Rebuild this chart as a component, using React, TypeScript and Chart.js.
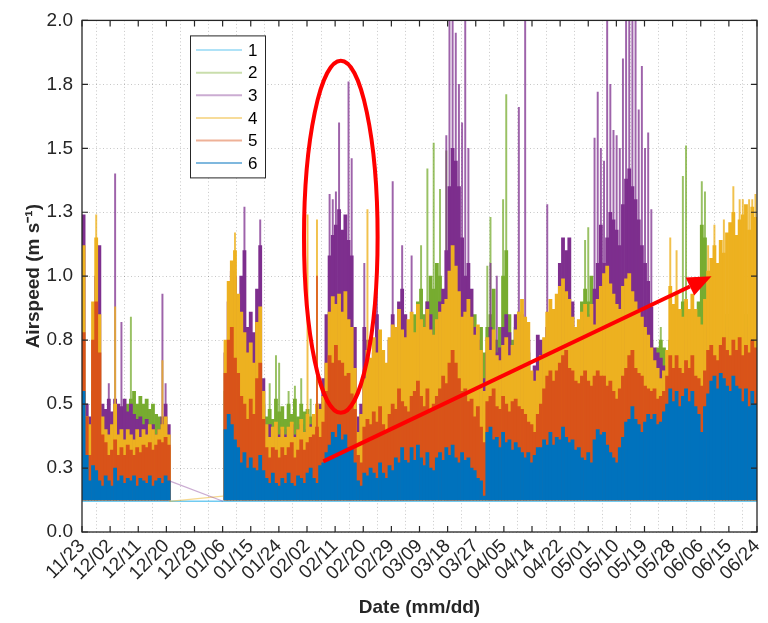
import React, { useEffect, useRef } from 'react';
import { Chart, registerables } from 'chart.js';

Chart.register(...registerables);

// ---------- axes / labels ----------
const X_LABELS = ['11/23', '12/02', '12/11', '12/20', '12/29', '01/06', '01/15', '01/24', '02/02', '02/11', '02/20', '02/29', '03/09', '03/18', '03/27', '04/05', '04/14', '04/22', '05/01', '05/10', '05/19', '05/28', '06/06', '06/15', '06/24'];
const Y_LABELS = ['0.0', '0.3', '0.5', '0.8', '1.0', '1.3', '1.5', '1.8', '2.0'];
const TOTAL_DAYS = 214; // 11/23 .. 06/24
const Y_MAX = 2.0;
const Y_STEP = 0.25;
const SERIES_NAMES = ['1', '2', '3', '4', '5', '6'];

// ---------- data (daily peak airspeed, m/s) ----------
const BASE = 0.125; // lower floor of the record
const SEG_A_START = 0; // days 0..27 (11/23 - 12/20)
const SEG_B_START = 45; // days 45..213 (01/07 - 06/24)

// series 6 (blue)
const S6_A = [0.55, 0.3, 0.2, 0.26, 0.24, 0.2, 0.18, 0.22, 0.2, 0.18, 0.25, 0.2, 0.22, 0.19, 0.21, 0.2, 0.22, 0.18, 0.21, 0.2, 0.19, 0.22, 0.18, 0.2, 0.21, 0.19, 0.22, 0.2];
const S6_B = [
  0.40, 0.46, 0.42, 0.36, 0.33, 0.27, 0.31, 0.25, 0.29, 0.25,
  0.24, 0.30, 0.24, 0.21, 0.19, 0.23, 0.19, 0.18, 0.21, 0.19,
  0.23, 0.19, 0.18, 0.22, 0.21, 0.19, 0.23, 0.25, 0.21, 0.19,
  0.26, 0.27, 0.31, 0.34, 0.39, 0.37, 0.42, 0.36, 0.38, 0.33,
  0.33, 0.27, 0.20, 0.18, 0.23, 0.22, 0.25, 0.23, 0.21, 0.27,
  0.23, 0.21, 0.26, 0.24, 0.29, 0.27, 0.33, 0.28, 0.27, 0.33,
  0.28, 0.34, 0.29, 0.26, 0.31, 0.25, 0.24, 0.29, 0.31, 0.28,
  0.33, 0.30, 0.34, 0.29, 0.27, 0.31, 0.28, 0.29, 0.25, 0.24,
  0.21, 0.20, 0.14, 0.39, 0.41, 0.36, 0.37, 0.33, 0.39, 0.35,
  0.36, 0.32, 0.35, 0.33, 0.31, 0.29, 0.31, 0.27, 0.30, 0.33,
  0.33, 0.36, 0.34, 0.39, 0.34, 0.37, 0.36, 0.41, 0.37, 0.35,
  0.36, 0.32, 0.33, 0.29, 0.28, 0.31, 0.27, 0.36, 0.40, 0.38,
  0.39, 0.34, 0.31, 0.29, 0.27, 0.33, 0.37, 0.43, 0.44, 0.49,
  0.44, 0.42, 0.39, 0.43, 0.46, 0.44, 0.46, 0.42, 0.43, 0.47,
  0.50, 0.56, 0.51, 0.55, 0.49, 0.53, 0.56, 0.51, 0.55, 0.49,
  0.46, 0.39, 0.49, 0.54, 0.59, 0.61, 0.56, 0.62, 0.60, 0.57,
  0.55, 0.61, 0.57, 0.56, 0.51, 0.56, 0.49, 0.55, 0.50,
];

// series 5 (orange)
const S5_A = [0.78, 0.45, 0.3, 0.75, 0.9, 0.7, 0.38, 0.35, 0.3, 0.32, 0.36, 0.3, 0.33, 0.3, 0.34, 0.32, 0.3, 0.33, 0.31, 0.34, 0.33, 0.35, 0.32, 0.34, 0.36, 0.35, 0.37, 0.34];
const S5_B = [
  0.62, 0.75, 0.80, 0.68, 0.62, 0.53, 0.50, 0.44, 0.52, 0.46,
  0.60, 0.66, 0.44, 0.33, 0.29, 0.33, 0.32, 0.29, 0.33, 0.30,
  0.33, 0.35, 0.29, 0.32, 0.36, 0.32, 0.35, 0.37, 0.38, 0.41,
  0.37, 0.43, 0.55, 0.69, 0.66, 0.73, 0.67, 0.66, 0.61, 0.62,
  0.54, 0.48, 0.30, 0.27, 0.41, 0.44, 0.42, 0.47, 0.43, 0.49,
  0.42, 0.39, 0.46, 0.50, 0.48, 0.56, 0.51, 0.49, 0.47, 0.53,
  0.55, 0.59, 0.53, 0.49, 0.56, 0.48, 0.50, 0.53, 0.56, 0.61,
  0.58, 0.66, 0.71, 0.66, 0.60, 0.55, 0.56, 0.51, 0.52, 0.45,
  0.49, 0.41, 0.35, 0.51, 0.53, 0.56, 0.49, 0.48, 0.53, 0.50,
  0.47, 0.51, 0.52, 0.49, 0.48, 0.46, 0.43, 0.42, 0.39, 0.46,
  0.50, 0.56, 0.61, 0.63, 0.59, 0.63, 0.66, 0.69, 0.71, 0.64,
  0.63, 0.59, 0.58, 0.61, 0.63, 0.59, 0.57, 0.61, 0.63, 0.61,
  0.61, 0.57, 0.59, 0.55, 0.52, 0.56, 0.61, 0.64, 0.69, 0.71,
  0.64, 0.62, 0.61, 0.57, 0.56, 0.55, 0.56, 0.52, 0.53, 0.55,
  0.61, 0.69, 0.64, 0.69, 0.64, 0.62, 0.67, 0.64, 0.69, 0.61,
  0.60, 0.57, 0.63, 0.71, 0.73, 0.69, 0.67, 0.73, 0.76, 0.71,
  0.69, 0.75, 0.71, 0.76, 0.69, 0.73, 0.70, 0.75, 0.72,
];

// series 4 (yellow)
const S4_A = [1.12, 0.45, 0.42, 0.9, 1.15, 0.85, 0.45, 0.4, 0.38, 0.42, 0.5, 0.38, 0.4, 0.36, 0.4, 0.38, 0.36, 0.4, 0.37, 0.4, 0.38, 0.42, 0.4, 0.38, 0.4, 0.42, 0.45, 0.38];
const S4_B = [
  0.75, 0.98, 1.06, 1.10, 0.93, 0.86, 0.78, 0.70, 0.74, 0.66,
  0.82, 0.88, 0.55, 0.42, 0.37, 0.41, 0.43, 0.37, 0.41, 0.37,
  0.41, 0.43, 0.37, 0.40, 0.44, 0.39, 0.46, 0.41, 0.46, 0.50,
  0.48, 0.53, 0.66, 0.86, 0.92, 0.89, 0.93, 0.86, 0.94, 0.83,
  0.80, 0.64, 0.39, 0.46, 0.60, 0.71, 0.68, 0.76, 0.70, 0.79,
  0.71, 0.66, 0.76, 0.81, 0.80, 0.87, 0.79, 0.76, 0.83, 0.86,
  0.78, 0.89, 0.83, 0.80, 0.87, 0.79, 0.77, 0.83, 0.86, 0.89,
  0.91, 1.02, 1.12, 1.04, 0.94, 0.84, 0.86, 0.91, 0.84, 0.77,
  0.81, 0.71, 0.55, 0.76, 0.71, 0.79, 0.69, 0.67, 0.73, 0.76,
  0.69, 0.73, 0.79, 0.86, 0.91, 0.84, 0.82, 0.63, 0.59, 0.63,
  0.69, 0.76, 0.86, 0.91, 0.87, 0.93, 0.96, 0.99, 0.94, 0.91,
  0.84, 0.80, 0.83, 0.86, 0.89, 0.84, 0.89, 0.81, 0.91, 0.96,
  1.01, 1.04, 0.97, 0.93, 0.89, 0.87, 0.96, 0.99, 1.01, 0.94,
  0.90, 0.87, 0.84, 0.80, 0.77, 0.72, 0.67, 0.64, 0.60, 0.63,
  0.71, 0.96, 0.89, 0.93, 0.87, 0.84, 0.91, 0.87, 0.93, 0.87,
  0.84, 0.81, 0.91, 1.02, 1.07, 1.12, 1.05, 1.14, 1.09, 1.17,
  1.21, 1.25, 1.16, 1.22, 1.24, 1.28, 1.18, 1.27, 1.23,
];

// series 3 (purple)
const S3_A = [1.24, 0.5, 0.45, 0.55, 1.0, 1.12, 0.5, 0.48, 0.52, 0.47, 0.52, 0.5, 0.49, 0.52, 0.47, 0.5, 0.46, 0.44, 0.45, 0.42, 0.44, 0.4, 0.42, 0.38, 0.4, 0.45, 0.5, 0.42];
const S3_B = [
  0.70, 0.90, 1.02, 1.00, 0.90, 1.00, 1.10, 0.80, 0.86, 0.78,
  0.95, 1.12, 0.60, 0.40, 0.42, 0.40, 0.42, 0.38, 0.40, 0.38,
  0.40, 0.42, 0.38, 0.40, 0.42, 0.38, 0.40, 0.42, 0.45, 0.40,
  0.50, 0.60, 0.85, 1.08, 1.16, 1.20, 1.26, 1.18, 1.24, 1.14,
  1.08, 0.80, 0.45, 0.50, 0.80, 0.75, 0.65, 0.70, 0.85, 0.70,
  0.65, 0.60, 0.75, 0.85, 0.80, 0.90, 0.95, 0.85, 0.80, 0.75,
  0.70, 0.75, 0.80, 0.75, 0.90, 0.85, 0.75, 0.80, 0.90, 0.95,
  1.10, 1.35, 1.50, 1.45, 1.35, 1.15, 1.00, 1.05, 0.95, 0.80,
  0.75, 0.70, 0.60, 0.70, 0.80, 0.75, 0.70, 0.72, 0.80, 0.85,
  0.78, 0.70, 0.85, 0.80, 0.85, 0.80, 0.75, 0.60, 0.65, 0.77,
  0.75, 0.70, 0.80, 0.85, 0.80, 0.85, 1.05, 1.15, 1.10, 1.15,
  0.90, 0.80, 0.75, 0.78, 0.80, 0.80, 0.85, 0.95, 1.05, 1.20,
  1.05, 1.15, 1.25, 1.22, 1.18, 1.12, 1.28, 1.38, 1.42, 1.35,
  1.30, 1.22, 1.12, 1.05, 0.98, 0.88, 0.72, 0.70, 0.68, 0.65,
  0.60, 0.70, 0.70, 0.72, 0.70, 0.72, 0.75, 0.70, 0.72, 0.70,
  0.75, 0.72, 0.75, 0.80, 0.80, 0.80, 0.80, 0.80, 0.80, 0.80,
  0.80, 0.80, 0.80, 0.80, 0.80, 0.80, 0.80, 0.80, 0.80,
];

// series 2 (green)
const S2_A = [0.4, 0.35, 0.3, 0.4, 0.5, 0.45, 0.35, 0.38, 0.4, 0.42, 0.4, 0.42, 0.44, 0.45, 0.5, 0.52, 0.55, 0.5, 0.53, 0.5, 0.52, 0.48, 0.5, 0.46, 0.45, 0.38, 0.35, 0.33];
const S2_B = [
  0.55, 0.60, 0.55, 0.50, 0.50, 0.50, 0.55, 0.50, 0.60, 0.50,
  0.50, 0.55, 0.50, 0.45, 0.48, 0.44, 0.52, 0.47, 0.49, 0.44,
  0.50, 0.46, 0.52, 0.45, 0.50, 0.47, 0.48, 0.45, 0.44, 0.42,
  0.45, 0.45, 0.50, 0.50, 0.50, 0.50, 0.50, 0.50, 0.50, 0.50,
  0.50, 0.45, 0.38, 0.40, 0.50, 0.55, 0.60, 0.65, 0.60, 0.68,
  0.60, 0.62, 0.65, 0.60, 0.70, 0.72, 0.70, 0.75, 0.80, 0.78,
  0.85, 0.90, 0.95, 0.85, 0.90, 1.00, 0.95, 1.05, 1.00, 0.90,
  0.95, 0.90, 0.90, 0.85, 0.85, 0.80, 0.85, 0.90, 0.80, 0.85,
  0.75, 0.80, 0.70, 0.80, 0.85, 0.95, 0.75, 0.80, 1.00, 1.10,
  0.85, 0.75, 0.80, 0.75, 0.70, 0.72, 0.70, 0.55, 0.55, 0.58,
  0.60, 0.60, 0.65, 0.68, 0.70, 0.70, 0.75, 0.80, 0.78, 0.75,
  0.70, 0.72, 0.75, 0.90, 0.95, 0.90, 1.00, 0.80, 0.80, 0.85,
  0.85, 0.85, 0.85, 0.85, 0.80, 0.80, 0.80, 0.80, 0.80, 0.80,
  0.80, 0.80, 0.80, 0.80, 0.75, 0.75, 0.70, 0.72, 0.75, 0.72,
  0.65, 0.75, 0.80, 0.85, 0.80, 0.90, 0.90, 0.80, 0.85, 0.80,
  0.90, 1.20, 1.15, 0.90, 0.85, 0.85, 0.85, 0.85, 0.85, 0.85,
  0.85, 0.85, 0.85, 0.85, 0.85, 0.85, 0.85, 0.85, 0.85,
];

// isolated short bursts above the daily level: [day, peak m/s]
const S5_SPIKES = [[74, 1.0]];
const S4_SPIKES = [[4, 1.24], [10, 0.88], [25, 0.67], [48, 1.17], [71, 1.24], [74, 1.22], [90, 1.26], [186, 1.15], [188, 1.1], [198, 1.12], [200, 1.2], [203, 1.22], [206, 1.35], [208, 1.3], [209, 1.3], [211, 1.3], [212, 1.3], [213, 1.32]];
const S3_SPIKES = [[8, 0.58], [10, 1.4], [12, 0.82], [25, 0.93], [26, 0.58], [51, 1.27], [56, 1.22], [78, 1.32], [79, 1.3], [80, 1.33], [81, 1.6], [84, 1.76], [85, 1.46], [89, 1.05], [93, 1.26], [98, 1.37], [101, 1.12], [104, 1.08], [115, 1.55], [116, 2.1], [117, 2.1], [118, 1.95], [119, 1.75], [120, 1.6], [121, 2.1], [122, 1.5], [129, 1.05], [131, 1.0], [138, 1.66], [140, 2.1], [147, 1.28], [162, 1.54], [163, 1.72], [164, 1.5], [165, 1.45], [166, 2.1], [167, 1.75], [168, 1.57], [169, 1.55], [170, 1.5], [171, 1.85], [172, 2.1], [173, 2.1], [174, 2.1], [175, 2.1], [176, 1.65], [177, 1.82], [178, 1.5], [179, 1.56], [180, 1.26]];
const S2_SPIKES = [[15, 0.84], [53, 0.65], [59, 0.58], [61, 0.69], [62, 0.66], [65, 0.55], [67, 0.57], [69, 0.6], [72, 0.52], [107, 1.12], [109, 1.42], [111, 1.52], [113, 1.34], [115, 1.49], [128, 1.04], [129, 1.23], [133, 1.3], [134, 1.71], [159, 1.14], [160, 1.19], [183, 0.8], [190, 1.39], [191, 1.51], [196, 1.37], [197, 1.33]];

// series 1 (light blue) lies on the floor of the record
const S1_LINE = [{ x: 0, y: 0.12 }, { x: 214, y: 0.12 }];
// straight connectors drawn across the data gap (12/20 - 01/06)
const GAP_S3 = [{ x: 27.7, y: 0.2 }, { x: 44.7, y: 0.12 }];
const GAP_S4 = [{ x: 27.7, y: 0.12 }, { x: 44.7, y: 0.14 }];

// annotations (data units: days since 11/23, m/s)
const ELLIPSE = { day: 82.05, value: 1.154, dayRadius: 11.67, valueRadius: 0.688 };
const ARROW = { fromDay: 76.5, fromValue: 0.276, toDay: 199.6, toValue: 1.0 };

// ---------- styles ----------
const COLORS = ['#4DBEEE', '#77AC30', '#7E2F8E', '#EDB120', '#D95319', '#0072BD'];
const LEGEND_COLORS = ['rgba(77,190,238,0.45)', 'rgba(119,172,48,0.4)', 'rgba(126,47,142,0.4)', 'rgba(237,177,32,0.45)', 'rgba(217,83,25,0.45)', 'rgba(0,114,189,0.5)'];
const SPIKE_COLORS = ['', 'rgba(119,172,48,0.75)', 'rgba(126,47,142,0.75)', 'rgba(237,177,32,0.8)', 'rgba(217,83,25,0.8)', ''];
const AXIS_COLOR = '#262626';
const FONT = '"Liberation Sans", Arial, Helvetica, sans-serif';

function segPoints(a: number[], b: number[]) {
  const pts: any[] = [];
  a.forEach((v, i) => pts.push({ x: SEG_A_START + i + 0.5, y: [BASE, v] }));
  b.forEach((v, i) => pts.push({ x: SEG_B_START + i + 0.5, y: [BASE, v] }));
  return pts;
}
function spikePoints(list: number[][]) {
  return list.map(([d, v]) => ({ x: d + 0.5, y: [BASE, v] }));
}

const overlayPlugin = {
  id: 'overlay',
  afterDatasetsDraw(chart: any) {
    const { ctx, chartArea: a, scales } = chart;
    const x = scales.x;
    const y = scales.y;
    ctx.save();

    // axes frame with inward ticks
    ctx.strokeStyle = AXIS_COLOR;
    ctx.lineWidth = 1.3;
    ctx.strokeRect(a.left, a.top, a.right - a.left, a.bottom - a.top);
    ctx.lineWidth = 1.2;
    const tl = 6;
    ctx.beginPath();
    x.ticks.forEach((t: any) => {
      const px = x.getPixelForValue(t.value);
      ctx.moveTo(px, a.bottom); ctx.lineTo(px, a.bottom - tl);
      ctx.moveTo(px, a.top); ctx.lineTo(px, a.top + tl);
    });
    y.ticks.forEach((t: any) => {
      const py = y.getPixelForValue(t.value);
      ctx.moveTo(a.left, py); ctx.lineTo(a.left + tl, py);
      ctx.moveTo(a.right, py); ctx.lineTo(a.right - tl, py);
    });
    ctx.stroke();

    // red ellipse
    ctx.strokeStyle = '#ff0000';
    ctx.fillStyle = '#ff0000';
    ctx.lineWidth = 4;
    const cx = x.getPixelForValue(ELLIPSE.day);
    const cy = y.getPixelForValue(ELLIPSE.value);
    const rx = Math.abs(x.getPixelForValue(ELLIPSE.day + ELLIPSE.dayRadius) - cx);
    const ry = Math.abs(y.getPixelForValue(ELLIPSE.value + ELLIPSE.valueRadius) - cy);
    ctx.beginPath();
    ctx.ellipse(cx, cy, rx, ry, 0, 0, Math.PI * 2);
    ctx.stroke();

    // red arrow
    const x1 = x.getPixelForValue(ARROW.fromDay);
    const y1 = y.getPixelForValue(ARROW.fromValue);
    const x2 = x.getPixelForValue(ARROW.toDay);
    const y2 = y.getPixelForValue(ARROW.toValue);
    const ang = Math.atan2(y2 - y1, x2 - x1);
    const hl = 24, hw = 10;
    const bx = x2 - hl * Math.cos(ang);
    const by = y2 - hl * Math.sin(ang);
    ctx.beginPath();
    ctx.moveTo(x1, y1);
    ctx.lineTo(bx, by);
    ctx.stroke();
    ctx.beginPath();
    ctx.moveTo(x2, y2);
    ctx.lineTo(bx + hw * Math.sin(ang), by - hw * Math.cos(ang));
    ctx.lineTo(bx - hw * Math.sin(ang), by + hw * Math.cos(ang));
    ctx.closePath();
    ctx.fill();

    // legend box
    const lx = a.left + 108, ly = a.top + 15, lw = 75, lh = 142;
    ctx.fillStyle = '#ffffff';
    ctx.fillRect(lx, ly, lw, lh);
    ctx.strokeStyle = AXIS_COLOR;
    ctx.lineWidth = 1;
    ctx.strokeRect(lx + 0.5, ly + 0.5, lw, lh);
    ctx.font = `17px ${FONT}`;
    ctx.textBaseline = 'middle';
    ctx.textAlign = 'left';
    SERIES_NAMES.forEach((name, i) => {
      const ry2 = ly + 14.7 + i * 22.6;
      ctx.strokeStyle = LEGEND_COLORS[i];
      ctx.lineWidth = 2;
      ctx.beginPath();
      ctx.moveTo(lx + 6, ry2);
      ctx.lineTo(lx + 52, ry2);
      ctx.stroke();
      ctx.fillStyle = '#000000';
      ctx.fillText(name, lx + 58, ry2 + 1);
    });
    ctx.restore();
  },
};

export default function App() {
  const ref = useRef<HTMLCanvasElement | null>(null);

  useEffect(() => {
    document.body.style.margin = '0';
    const canvas = ref.current;
    if (!canvas) return;

    const barCommon = { grouped: false, borderWidth: 0, barPercentage: 1, categoryPercentage: 1, borderSkipped: false };
    const spikeCommon = { grouped: false, borderWidth: 0, barThickness: 1.3, borderSkipped: false };

    const datasets: any[] = [
      { type: 'bar', label: '6', data: segPoints(S6_A, S6_B), backgroundColor: COLORS[5], order: 1, ...barCommon },
      { type: 'bar', label: '5 spikes', data: spikePoints(S5_SPIKES), backgroundColor: SPIKE_COLORS[4], order: 2, ...spikeCommon },
      { type: 'bar', label: '5', data: segPoints(S5_A, S5_B), backgroundColor: COLORS[4], order: 3, ...barCommon },
      { type: 'bar', label: '4 spikes', data: spikePoints(S4_SPIKES), backgroundColor: SPIKE_COLORS[3], order: 4, ...spikeCommon },
      { type: 'bar', label: '4', data: segPoints(S4_A, S4_B), backgroundColor: COLORS[3], order: 5, ...barCommon },
      { type: 'bar', label: '3 spikes', data: spikePoints(S3_SPIKES), backgroundColor: SPIKE_COLORS[2], order: 6, ...spikeCommon },
      { type: 'bar', label: '3', data: segPoints(S3_A, S3_B), backgroundColor: COLORS[2], order: 7, ...barCommon },
      { type: 'bar', label: '2 spikes', data: spikePoints(S2_SPIKES), backgroundColor: SPIKE_COLORS[1], order: 8, ...spikeCommon },
      { type: 'bar', label: '2', data: segPoints(S2_A, S2_B), backgroundColor: COLORS[1], order: 9, ...barCommon },
      { type: 'line', label: '1', data: S1_LINE, borderColor: 'rgba(77,190,238,0.8)', borderWidth: 1.5, pointRadius: 0, order: 10 },
      { type: 'line', label: 'gap 3', data: GAP_S3, borderColor: 'rgba(126,47,142,0.4)', borderWidth: 1.2, pointRadius: 0, order: 0 },
      { type: 'line', label: 'gap 4', data: GAP_S4, borderColor: 'rgba(237,177,32,0.5)', borderWidth: 1.2, pointRadius: 0, order: 0 },
    ];

    const chart = new Chart(canvas, {
      type: 'bar',
      data: { datasets },
      options: {
        animation: false,
        responsive: false,
        events: [],
        layout: { padding: { left: 18, top: 17, right: 11, bottom: 0 } },
        plugins: { legend: { display: false }, tooltip: { enabled: false } },
        scales: {
          x: {
            type: 'linear',
            min: 0,
            max: TOTAL_DAYS,
            offset: false,
            afterBuildTicks: (s: any) => {
              s.ticks = X_LABELS.map((_, i) => ({ value: (i * TOTAL_DAYS) / (X_LABELS.length - 1) }));
            },
            afterFit: (s: any) => {
              s.height = 91;
              s.paddingLeft = 0;
              s.paddingRight = 0;
            },
            ticks: {
              autoSkip: false,
              maxRotation: 45,
              minRotation: 45,
              padding: 3,
              color: AXIS_COLOR,
              font: { size: 19, family: FONT },
              callback: (_v: any, i: number) => X_LABELS[i],
            },
            grid: { color: 'rgba(0,0,0,0.22)', lineWidth: 1, drawTicks: false },
            border: { display: false, dash: [1, 2.5] },
            title: { display: true, text: 'Date (mm/dd)', color: AXIS_COLOR, font: { size: 19, weight: 'bold', family: FONT } },
          },
          y: {
            type: 'linear',
            min: 0,
            max: Y_MAX,
            afterFit: (s: any) => {
              s.width = 64;
            },
            ticks: {
              stepSize: Y_STEP,
              padding: 9,
              color: AXIS_COLOR,
              font: { size: 19, family: FONT },
              callback: (_v: any, i: number) => Y_LABELS[i],
            },
            grid: { color: 'rgba(0,0,0,0.22)', lineWidth: 1, drawTicks: false },
            border: { display: false, dash: [1, 2.5] },
            title: { display: true, text: 'Airspeed (m s⁻¹)', color: AXIS_COLOR, font: { size: 19, weight: 'bold', family: FONT } },
          },
        },
      },
      plugins: [overlayPlugin],
    } as any);

    return () => chart.destroy();
  }, []);

  return (
    <div style={{ width: 768, height: 623, background: '#ffffff' }}>
      <canvas ref={ref} width={768} height={623} />
    </div>
  );
}
